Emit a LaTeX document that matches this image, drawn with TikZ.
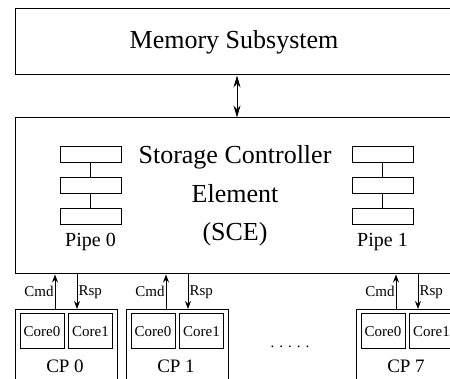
\documentclass[tikz,border=0pt]{standalone}
\usepackage{fontspec}
\setmainfont{Liberation Serif}
\usetikzlibrary{arrows.meta,calc}
\begin{document}
\begin{tikzpicture}[x=1pt,y=-1pt,
  line width=1pt,
  bigbox/.style={draw,minimum width=438pt,inner sep=0pt},
  stagebox/.style={draw,line width=0.8pt,minimum width=61pt,minimum height=16.5pt,inner sep=0pt},
  cpbox/.style={draw,minimum width=102pt,minimum height=81pt,inner sep=0pt},
  corebox/.style={draw,minimum width=44pt,minimum height=35pt,inner sep=0pt,font=\fontsize{15}{17}\selectfont},
  smalltip/.style={-{Stealth[length=8pt,width=6pt]}},
  lbl/.style={font=\fontsize{15}{17}\selectfont,inner sep=1pt}]
\useasboundingbox (0,0) rectangle (450,379);
\clip (0,0) rectangle (450,379);
% memory
\node[bigbox,minimum height=66pt,font=\fontsize{26}{30}\selectfont] (mem) at (234,42) {Memory Subsystem};
% SCE
\node[bigbox,minimum height=156pt] (sce) at (234,196) {};
\node[font=\fontsize{26}{30}\selectfont,align=center] (scet) at (235,196)
  {Storage Controller\\[8.5pt] Element\\[8.5pt] (SCE)};
\draw[{Stealth[length=12pt,width=7pt]}-{Stealth[length=12pt,width=7pt]}] (237,75.5) coordinate (ma) -- (237,117.5) coordinate (mb);
% pipes
\foreach \p/\x in {0/90.5,1/382.5}{
  \node[stagebox] (p\p a) at (\x,154.5) {};
  \node[stagebox] (p\p b) at (\x,185.5) {};
  \node[stagebox] (p\p c) at (\x,216.5) {};
  \draw[line width=0.8pt] (p\p a.south) -- (p\p b.north);
  \draw[line width=0.8pt] (p\p b.south) -- (p\p c.north);
  \node[font=\fontsize{20}{22}\selectfont] (pl\p) at (\x,242) {Pipe \p};
}
% CPs
\foreach \c/\x in {0/15,1/126,7/356}{
  \node[cpbox,anchor=north west] (cp\c) at (\x,309) {};
  \node[corebox] (cp\c a) at (\x+27,331.5) {Core0};
  \node[corebox] (cp\c b) at (\x+75.5,331.5) {Core1};
  \node[font=\fontsize{19}{21}\selectfont] (cpl\c) at (\x+50,366) {CP \c};
  \coordinate (cmd\c) at ($(cp\c.north west)+(40,0)$);
  \coordinate (rsp\c) at ($(cp\c.north west)+(62,0)$);
  \draw[smalltip] (cmd\c) -- node[lbl,anchor=east] (cmdl\c) {Cmd} (cmd\c |- sce.south);
  \draw[smalltip] (rsp\c |- sce.south) -- node[lbl,anchor=west] (rspl\c) {Rsp} (rsp\c);
}
\node[lbl] (dots) at (290,347) {. . . . .};
\end{tikzpicture}
\end{document}
